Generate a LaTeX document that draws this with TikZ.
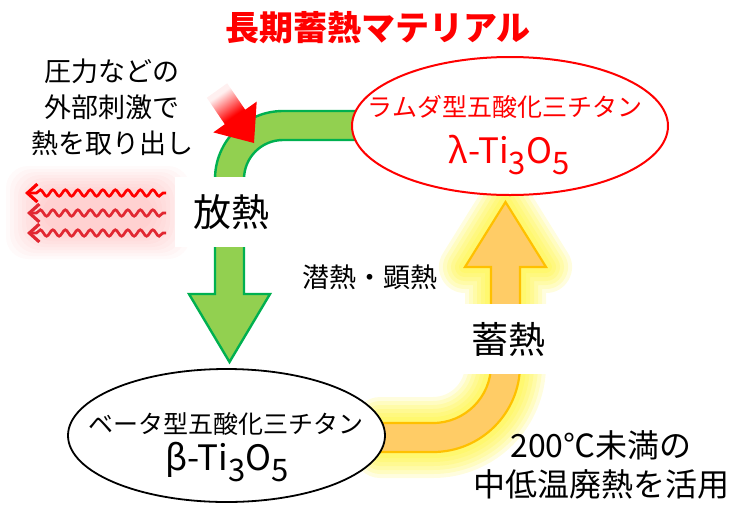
\documentclass[tikz,border=0pt]{standalone}
\usepackage{fontspec}
\setmainfont{Noto Sans CJK JP}
\usetikzlibrary{decorations.pathmorphing,arrows.meta,shapes.geometric}
\definecolor{gfill}{HTML}{92D050}
\definecolor{gline}{HTML}{00B050}
\definecolor{ofill}{HTML}{FFCC66}
\definecolor{oline}{HTML}{FFC000}
\definecolor{wred}{RGB}{225,40,50}
\newcommand\fsz[2]{\fontsize{#1pt}{#2pt}\selectfont}
\newcommand\chsub[2]{\raisebox{-#1pt}{\fontsize{#2pt}{#2pt}\selectfont 3}}
\newcommand\chsubf[2]{\raisebox{-#1pt}{\fontsize{#2pt}{#2pt}\selectfont 5}}
\pgfdeclareverticalshading{redfade}{100bp}{color(0bp)=(red); color(47bp)=(red); color(70bp)=(red!6); color(100bp)=(red!6)}
\tikzset{
  greenshape/.style={fill=gfill, draw=gline, line width=2.4pt, line join=miter},
  orangeshape/.style={fill=ofill, draw=oline, line width=2.2pt, line join=miter},
  glowstroke/.style={draw=yellow, draw opacity=0.13, line join=round, line width=#1},
  pinkglow/.style={fill=red, fill opacity=0.02, rounded corners=22pt},
  wave/.style={decorate, decoration={snake, segment length=12.5pt, amplitude=3.2pt, pre length=3pt, post length=9pt},
     line width=2.7pt, -{Straight Barb[length=10pt,width=18pt,line width=3.2pt]}},
  whitebox/.style={fill=white, inner sep=0pt, minimum width=#1, minimum height=70pt},
  ell/.style={ellipse, fill=white, inner sep=0pt, line width=2pt},
  txt/.style={inner sep=0pt, align=center}
}
\begin{document}
\begin{tikzpicture}[x=1pt,y=-1pt]
\useasboundingbox (0,0) rectangle (746,504);

% orange glow
\foreach \w in {52,44,36,28,20,12}{
  \draw[glowstroke=\w pt] (380,423) -- (433,423) .. controls (465,423) and (491,397) .. (491,365) -- (491,267) -- (465,267) -- (505.5,202) -- (546,267) -- (520,267) -- (520,365) .. controls (520,413) and (481,452) .. (433,452) -- (380,452) -- cycle;
}
% orange band arrow
\draw[orangeshape] (380,423) -- (433,423) .. controls (465,423) and (491,397) .. (491,365) -- (491,267) -- (465,267) -- (505.5,202) -- (546,267) -- (520,267) -- (520,365) .. controls (520,413) and (481,452) .. (433,452) -- (380,452) -- cycle;

% green band arrow
\draw[greenshape] (370,111) -- (283,111) .. controls (245.4,111) and (215,141.4) .. (215,179) -- (215,294) -- (189,294) -- (229.5,362) -- (270,294) -- (244,294) -- (244,179) .. controls (244,157.5) and (261.5,140) .. (283,140) -- (370,140) -- cycle;

% red push arrow
\shade[shading=redfade, shading angle=35]
  (227.2,83.25) -- (245.2,109.75) -- (256.7,101.6) -- (254,143) -- (213.3,132.4) -- (224.8,124.25) -- (206.8,97.75) -- cycle;

% pink glow behind heat waves
\foreach \i in {0,...,9}{
  \fill[pinkglow] (6+4*\i,166+3*\i) rectangle (190-4*\i,259-3*\i);
}
\coordinate (w1s) at (166,193); \coordinate (w1e) at (25,193);
\coordinate (w2s) at (166,213); \coordinate (w2e) at (27,213);
\coordinate (w3s) at (166,233); \coordinate (w3e) at (27,233);
\draw[wave, red] (w1s) -- (w1e);
\draw[wave, wred] (w2s) -- (w2e);
\draw[wave, wred] (w3s) -- (w3e);

% white boxes with labels
\node[whitebox=112pt, font=\fsz{38}{38}] (hounetsu) at (231,212) {放熱};
\node[whitebox=108pt, font=\fsz{37}{37}] (chikunetsu) at (508,339) {蓄熱};

% ellipses
\node[ell, draw=red, minimum width=316pt, minimum height=138pt] (lam) at (510,126) {};
\node[ell, draw=black, line width=1.8pt, minimum width=317pt, minimum height=133pt] (bet) at (226.5,435.5) {};

\node[txt, text=red, font=\fsz{25}{25}] (lamjp) at (505,107) {ラムダ型五酸化三チタン};
\node[txt, text=red, font=\fsz{35}{35}, anchor=base] (lamf) at (509,163) {λ-Ti\chsub{11}{31}O\chsubf{11}{31}};
\node[txt, font=\fsz{25}{25}] (betjp) at (226,424) {ベータ型五酸化三チタン};
\node[txt, font=\fsz{35}{35}, anchor=base] (betf) at (227,470) {β-Ti\chsub{11}{31}O\chsubf{11}{31}};

% other texts
\node[txt, text=red, font=\bfseries\fsz{34}{34}] (title) at (378,28) {長期蓄熱マテリアル};
\node[txt, font=\fsz{27}{36}] (stim) at (112,107) {圧力などの\\外部刺激で\\熱を取り出し};
\node[txt, font=\fsz{27}{27}] (latent) at (370,277) {潜熱・顕熱};
\node[txt, font=\fsz{32}{39}] (waste) at (601,465) {200℃未満の\\中低温廃熱を活用};
\end{tikzpicture}
\end{document}
